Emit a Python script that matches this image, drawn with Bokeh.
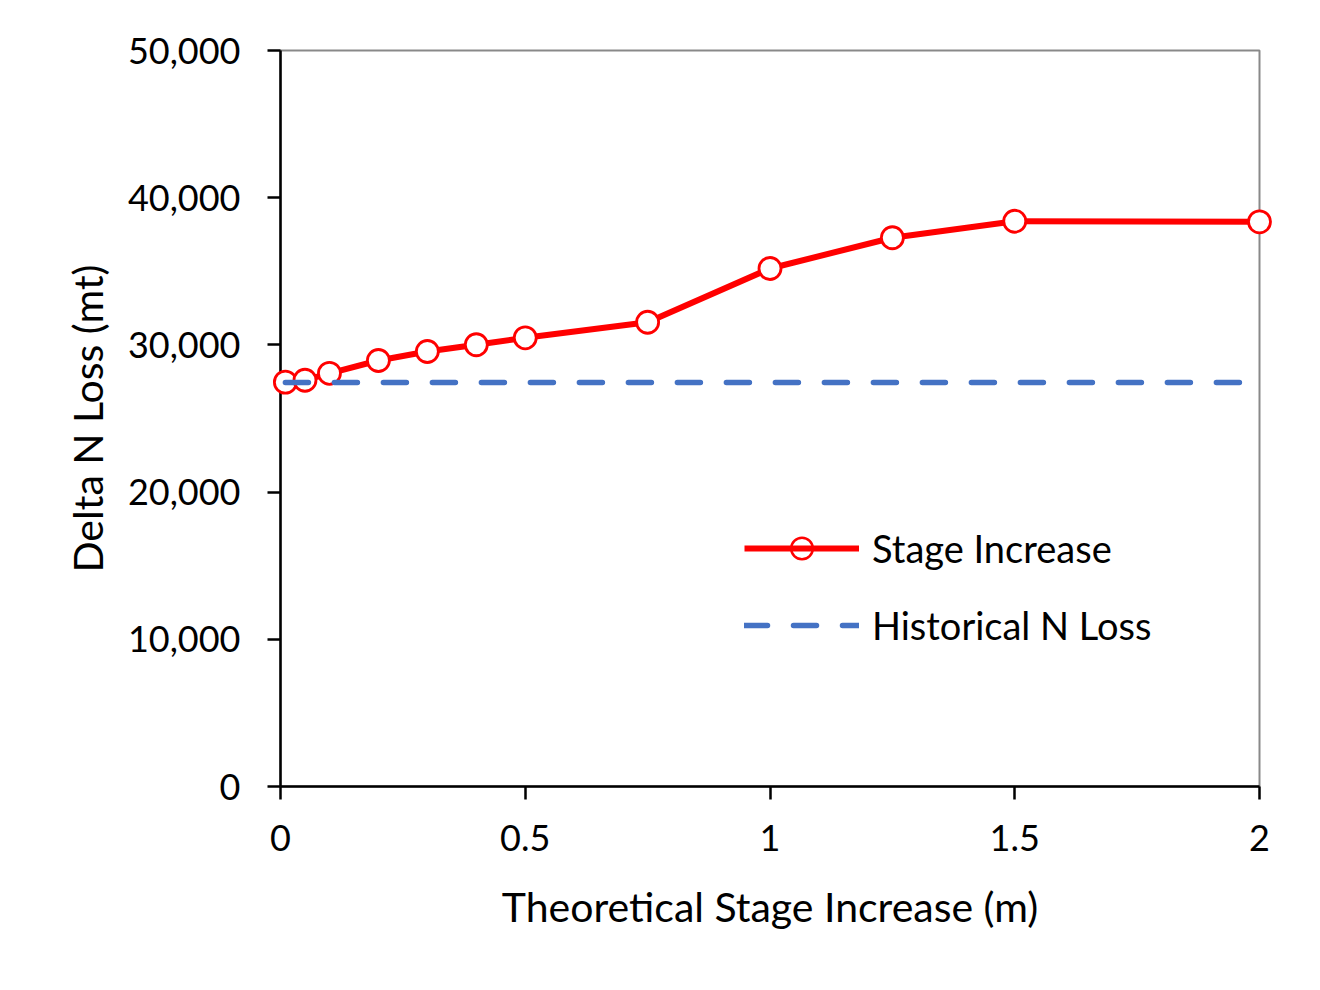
from bokeh.plotting import figure
from bokeh.models import Range1d, FixedTicker, NumeralTickFormatter, Legend, LegendItem
from bokeh.embed import file_html
from bokeh.resources import INLINE

# ---- data ----
stage_x = [0.01, 0.05, 0.1, 0.2, 0.3, 0.4, 0.5, 0.75, 1.0, 1.25, 1.5, 2.0]
stage_y = [27470, 27600, 28070, 28940, 29550, 30010, 30480, 31540, 35190, 37280, 38400, 38360]
hist_x = [0.01, 0.05, 0.1, 0.2, 0.3, 0.4, 0.5, 0.75, 1.0, 1.25, 1.5, 2.0]
hist_y = [27450, 27450, 27450, 27450, 27450, 27450, 27450, 27450, 27450, 27450, 27450, 27450]
x_ticks = [0, 0.5, 1, 1.5, 2]
y_ticks = [0, 10000, 20000, 30000, 40000, 50000]
series_names = ["Stage Increase", "Historical N Loss"]
x_title = "Theoretical Stage Increase (m)"
y_title = "Delta N Loss (mt)"

FONT = "Lato"
RED = "#FF0000"
BLUE = "#4472C4"

p = figure(frame_width=979, frame_height=736,
           x_range=Range1d(0, 2), y_range=Range1d(0, 50000),
           output_backend="svg", toolbar_location=None,
           min_border_left=280, min_border_right=40,
           min_border_top=50, min_border_bottom=190)

p.background_fill_color = "white"
p.border_fill_color = "white"
p.outline_line_color = "#898989"
p.outline_line_width = 2
p.xgrid.visible = False
p.ygrid.visible = False

for ax in (p.xaxis[0], p.yaxis[0]):
    ax.axis_line_color = "black"
    ax.axis_line_width = 2.5
    ax.major_tick_line_color = "black"
    ax.major_tick_line_width = 2.5
    ax.major_tick_in = 0
    ax.major_tick_out = 13
    ax.minor_tick_line_color = None
    ax.major_label_text_font = FONT
    ax.major_label_text_font_size = "36px"
    ax.major_label_text_color = "black"
    ax.axis_label_text_font = FONT
    ax.axis_label_text_font_size = "41px"
    ax.axis_label_text_font_style = "normal"
    ax.axis_label_text_color = "black"

p.xaxis[0].ticker = FixedTicker(ticks=x_ticks)
p.xaxis[0].formatter = NumeralTickFormatter(format="0.[0]")
p.xaxis[0].major_label_standoff = 25
p.xaxis[0].axis_label = x_title
p.xaxis[0].axis_label_standoff = 28

p.yaxis[0].ticker = FixedTicker(ticks=y_ticks)
p.yaxis[0].formatter = NumeralTickFormatter(format="0,0")
p.yaxis[0].major_label_standoff = 27
p.yaxis[0].axis_label = y_title
p.yaxis[0].axis_label_standoff = 13

line_r = p.line(stage_x, stage_y, line_color=RED, line_width=6, level="overlay")
p.scatter(stage_x, stage_y, marker="circle", size=22, line_color=RED,
          line_width=2.8, fill_color="white", level="overlay")
hist_r = p.line(hist_x, hist_y, line_color=BLUE, line_width=5.5, line_dash="23 26",
                line_cap="round", level="overlay")
leg_marker = p.scatter(x=[float("nan")], y=[float("nan")], marker="circle", size=22,
                       line_color=RED, line_width=2.5, fill_alpha=0)

legend = Legend(items=[LegendItem(label=series_names[0], renderers=[line_r, leg_marker]),
                       LegendItem(label=series_names[1], renderers=[hist_r])],
                location=(464, 134), orientation="vertical",
                padding=0, margin=0, spacing=23,
                glyph_width=115, glyph_height=54, label_height=54,
                label_standoff=13,
                label_text_font=FONT, label_text_font_size="38px",
                label_text_color="black",
                border_line_color=None, background_fill_alpha=0)
p.add_layout(legend)

open("out.html", "w").write(file_html(p, INLINE))
